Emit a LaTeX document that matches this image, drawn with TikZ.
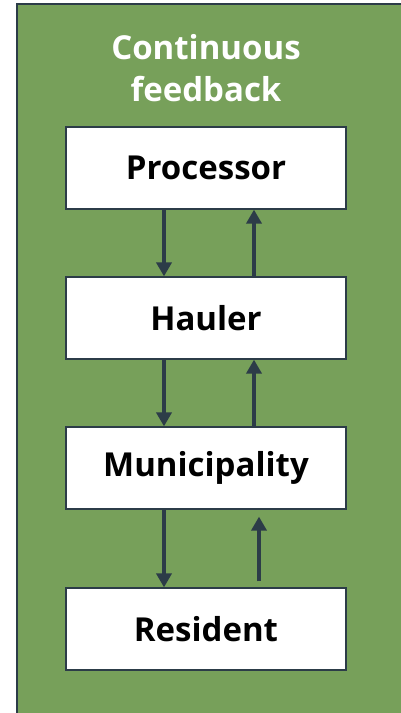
\documentclass[tikz,border=0pt]{standalone}
\usepackage{fontspec}
\setmainfont{Open Sans}
\usepackage{xcolor}
\usetikzlibrary{arrows.meta}
\definecolor{leaf}{RGB}{119,160,90}
\definecolor{slate}{RGB}{44,60,72}

\begin{document}
\begin{tikzpicture}[x=1pt, y=-1pt,
                    stage/.style={draw=slate, line width = 1.2pt, fill=white, minimum width=280pt, minimum height=82pt, inner sep=0pt, font=\fontsize{33}{40}\selectfont\bfseries},
                    flow/.style={draw=slate, line width = 3.5pt, -{Triangle[width=15pt,length=14pt]}}]
                    
                    \useasboundingbox (0,0) rectangle (400,713);
                    \draw[draw=slate, line width = 1.5pt, fill=leaf] (17,4) rectangle (404,717);
                    
                    \node[text=white, align=center, font=\fontsize{33}{42}\selectfont\bfseries] (title) at (206,68) {Continuous\\feedback};
                    
                    \node[stage] (proc) at (206,168) {Processor};
                    \node[stage] (haul) at (206,318) {Hauler};
                    \node[stage] (muni) at (206,468) {Municipality};
                    \node[stage] (resi) at (206,629) {Resident};
                    
                    \draw[flow] ([xshift=-42pt]proc.south) -- ([xshift=-42pt]haul.north);
                    \draw[flow] ([xshift=48pt]haul.north) -- ([xshift=48pt]proc.south);
                    
                    \draw[flow] ([xshift=-42pt]haul.south) -- ([xshift=-42pt]muni.north);
                    \draw[flow] ([xshift=48pt]muni.north) -- ([xshift=48pt]haul.south);
                    
                    \draw[flow] ([xshift=-42pt]muni.south) -- ([xshift=-42pt]resi.north);
                    \draw[flow] ([xshift=53pt,yshift=6pt]resi.north) -- ([xshift=53pt,yshift=-7pt]muni.south);
                
                \end{tikzpicture}
\end{document}
